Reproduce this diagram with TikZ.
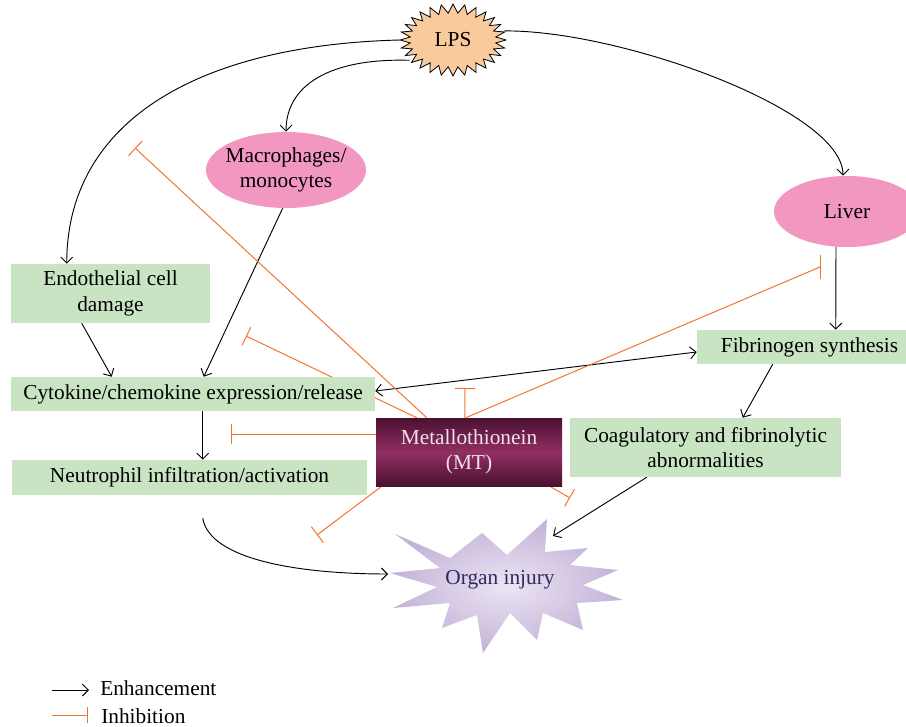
\documentclass[tikz,border=0pt]{standalone}
\usepackage{fontspec}
\setmainfont{Liberation Serif}
\usetikzlibrary{arrows.meta,shapes.geometric,calc}
\definecolor{greenbox}{HTML}{C9E4C2}
\definecolor{pinkell}{HTML}{F197C0}
\definecolor{lpsfill}{HTML}{F8CA9C}
\definecolor{inhcol}{HTML}{F37431}
\definecolor{mtdark}{HTML}{4A1030}
\definecolor{mtmid}{HTML}{922F63}
\definecolor{mttext}{HTML}{EEE2EA}
\definecolor{organout}{HTML}{C3B3D8}
\definecolor{organin}{HTML}{ECE4F3}
\definecolor{organtext}{HTML}{2B2A63}
\pgfdeclarelayer{bg}
\pgfsetlayers{bg,main}
\tikzset{
  gbox/.style={fill=greenbox, draw=none, inner sep=0pt, align=center},
  pell/.style={ellipse, fill=pinkell, draw=none, inner xsep=-5pt, inner ysep=-5pt, align=center},
  enh/.style={draw=black, line width=0.7pt, -{Straight Barb[length=4.5pt,width=9pt,line width=0.7pt]}},
  enhboth/.style={draw=black, line width=0.7pt, {Straight Barb[length=4.5pt,width=9pt,line width=0.7pt]}-{Straight Barb[length=4.5pt,width=9pt,line width=0.7pt]}},
  inh/.style={draw=inhcol, line width=0.75pt, -{Bar[width=15pt,line width=0.75pt]}},
  inhline/.style={draw=inhcol, line width=0.75pt},
}
\begin{document}
\begin{tikzpicture}[x=0.75pt,y=-0.75pt,font=\fontsize{16}{19}\selectfont]
\useasboundingbox (0,0) rectangle (906,727);

% LPS starburst
\filldraw[fill=lpsfill, draw=black, line width=0.6pt]
  (506,40) \foreach \i in {1,...,55} {
    -- ({453+(53-10*mod(\i,2))*cos(\i*6.428571)}, {40+(36-9*mod(\i,2))*sin(\i*6.428571)})
  } -- cycle;
\node[ellipse, minimum width=79.5pt, minimum height=52.5pt, inner sep=0pt] (LPS) at (453,40) {LPS};

% Nodes
\node[pell, minimum width=120pt, minimum height=57pt] (Macro) at (286,170) {Macrophages/\\monocytes};
\node[pell, minimum width=109.5pt, minimum height=53.25pt] (Liver) at (847,211.5) {Liver};
\node[gbox, minimum width=149.25pt, minimum height=44.25pt] (Endo) at (110.5,293.5) {Endothelial cell\\damage};
\node[gbox, minimum width=273pt, minimum height=25.5pt] (Cyto) at (193,394) {Cytokine/chemokine expression/release};
\node[gbox, minimum width=266.25pt, minimum height=26.25pt] (Neut) at (189.5,477.5) {Neutrophil infiltration/activation};
\node[gbox, minimum width=168.75pt, minimum height=25.5pt] (Fib) at (809.5,347) {Fibrinogen synthesis};
\node[gbox, minimum width=203.25pt, minimum height=44.25pt] (Coag) at (705.5,447.5) {Coagulatory and fibrinolytic\\abnormalities};
\node[draw=none, top color=mtdark, bottom color=mtdark, middle color=mtmid, text=mttext,
      minimum width=139.5pt, minimum height=51pt, inner sep=0pt, align=center] (MT) at (469,452) {Metallothionein\\(MT)};

% Organ injury star
\shade[inner color=organin, outer color=organout]
  (395,534) -- (450,558) -- (482,533) -- (507,555) -- (547,519) -- (545,552) -- (588,548)
  -- (570,565) -- (618,570) -- (583,585) -- (623,600) -- (577,603) -- (583,630) -- (543,613)
  -- (537,640) -- (510,613) -- (483,653) -- (477,615) -- (442,628) -- (450,603) -- (393,608)
  -- (437,587) -- (390,573) -- (440,568) -- cycle;
\node[text=organtext, inner sep=0pt] (Organ) at (500,580) {Organ injury};

% free ends of inhibition lines
\coordinate (ia) at (135,148);
\coordinate (ib) at (246,336);
\coordinate (ic) at (231,434);
\coordinate (id) at (465,388);
\coordinate (ie) at (820,267);
\coordinate (if) at (317,535);
\coordinate (ig) at (570,498);

\begin{pgfonlayer}{bg}
% enhancement arrows
\draw[enh] (LPS.west) .. controls (200,45) and (67,120) .. ($(Endo.north west)+(56,0)$);
\draw[enh] (LPS.205) .. controls (330,58) and (286,85) .. (Macro.north);
\draw[enh] (LPS.10) .. controls (620,30) and (843,110) .. ($(Liver.north)+(-4,0)$);
\draw[enh] (Macro.265) -- ($(Cyto.north west)+(193,0)$);
\draw[enh] ($(Endo.south west)+(71,0)$) -- ($(Cyto.north west)+(101,0)$);
\draw[enh] ($(Cyto.south west)+(192,0)$) -- ($(Neut.north west)+(191,0)$);
\draw[enh] ($(Liver.south)+(-11,-3)$) -- ($(Fib.north west)+(139,0)$);
\draw[enh] ($(Fib.south west)+(76,0)$) -- ($(Coag.north west)+(173,0)$);
\draw[enh] ($(Coag.south west)+(77,0)$) -- ($(Organ)+(53,-44)$);
\draw[enh] ($(Neut.south west)+(191,23)$) .. controls (210,560) and (300,574) .. ($(Organ)+(-112,-6)$);
\draw[enhboth] ($(Cyto.east)+(0,-3)$) -- ($(Fib.west)+(0,5)$);

% inhibition lines
\draw[inh] ($(MT.north west)+(51,0)$) -- (ia);
\draw[inh] ($(MT.north west)+(41,0)$) -- (ib);
\draw[inh] ($(MT.west)+(0,-18)$) -- (ic);
\draw[inh] ($(MT.north west)+(89,0)$) -- (id);
\draw[inhline] ($(MT.north west)+(90,0)$) -- (ie);
\draw[inhline] ($(ie)+(0,-12)$) -- ($(ie)+(0,12)$);
\draw[inh] ($(MT.south west)+(6,0)$) -- (if);
\draw[inh] ($(MT.south west)+(174,0)$) -- (ig);
\end{pgfonlayer}

% legend
\coordinate (e1) at (52,690);
\coordinate (e2) at (89,690);
\draw[enh] (e1) -- (e2);
\node[anchor=west, inner sep=0pt] (enhtxt) at (100,688) {Enhancement};
\coordinate (h1) at (52,715);
\coordinate (h2) at (87,715);
\draw[inhline] (h1) -- (h2);
\draw[inhline] ($(h2)+(0,-8)$) -- ($(h2)+(0,8)$);
\node[anchor=west, inner sep=0pt] (inhtxt) at (101,716) {Inhibition};
\end{tikzpicture}
\end{document}
